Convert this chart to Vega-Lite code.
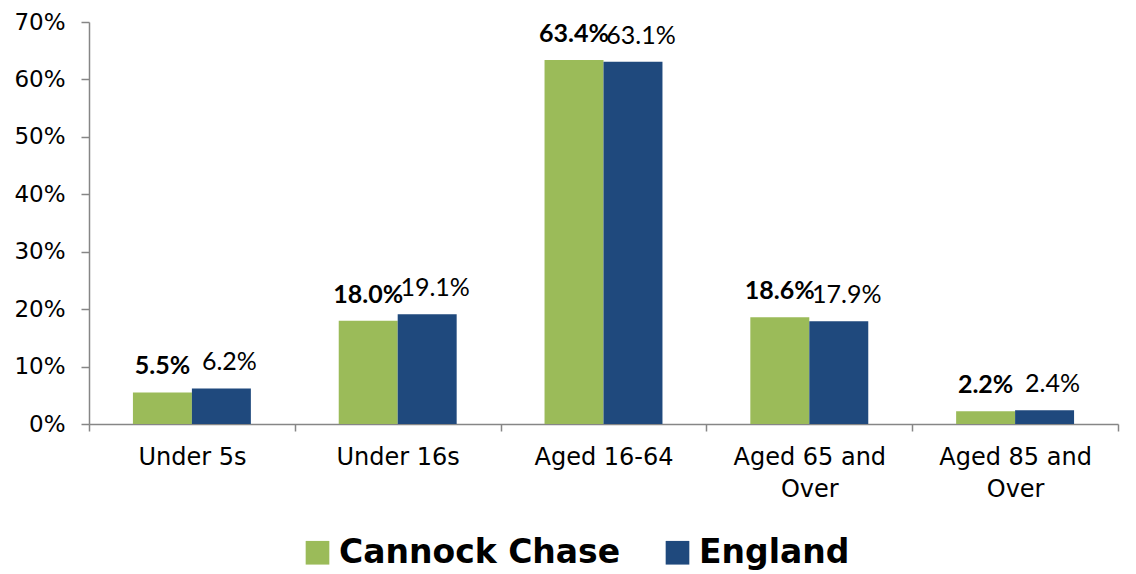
{
  "$schema": "https://vega.github.io/schema/vega-lite/v6.json",
  "autosize": "none",
  "width": 1029,
  "height": 402,
  "padding": {"left": 89, "top": 22, "right": 18, "bottom": 150},
  "background": "white",
  "config": {
    "view": {"stroke": null},
    "font": "DejaVu Sans"
  },
  "data": {
    "values": [
      {"category": "Under 5s", "series": "Cannock Chase", "value": 0.055},
      {"category": "Under 5s", "series": "England", "value": 0.062},
      {"category": "Under 16s", "series": "Cannock Chase", "value": 0.180},
      {"category": "Under 16s", "series": "England", "value": 0.191},
      {"category": "Aged 16-64", "series": "Cannock Chase", "value": 0.634},
      {"category": "Aged 16-64", "series": "England", "value": 0.631},
      {"category": "Aged 65 and Over", "series": "Cannock Chase", "value": 0.186},
      {"category": "Aged 65 and Over", "series": "England", "value": 0.179},
      {"category": "Aged 85 and Over", "series": "Cannock Chase", "value": 0.022},
      {"category": "Aged 85 and Over", "series": "England", "value": 0.024}
    ]
  },
  "encoding": {
    "x": {
      "field": "category",
      "type": "nominal",
      "sort": null,
      "scale": {"paddingInner": 0, "paddingOuter": 0},
      "axis": {
        "title": null,
        "labelAngle": 0,
        "labelFont": "DejaVu Sans",
        "labelFontSize": 24,
        "labelColor": "#000000",
        "labelPadding": 14,
        "labelLineHeight": 32,
        "labelExpr": "datum.value == 'Aged 65 and Over' ? ['Aged 65 and', 'Over'] : datum.value == 'Aged 85 and Over' ? ['Aged 85 and', 'Over'] : datum.value",
        "tickBand": "extent",
        "tickSize": 7,
        "tickColor": "#868686",
        "tickWidth": 1.5,
        "domainColor": "#868686",
        "domainWidth": 1.5,
        "grid": false
      }
    },
    "xOffset": {"field": "series", "type": "nominal", "scale": {"paddingInner": 0, "paddingOuter": 0.745}},
    "y": {
      "field": "value",
      "type": "quantitative",
      "scale": {"domain": [0, 0.7], "nice": false},
      "axis": {
        "title": null,
        "format": ".0%",
        "values": [0, 0.1, 0.2, 0.3, 0.4, 0.5, 0.6, 0.7],
        "labelFont": "DejaVu Sans",
        "labelFontSize": 23,
        "labelColor": "#000000",
        "labelPadding": 16,
        "tickSize": 8,
        "tickColor": "#868686",
        "tickWidth": 1.5,
        "domainColor": "#868686",
        "domainWidth": 1.5,
        "grid": false
      }
    }
  },
  "layer": [
    {
      "mark": {"type": "bar"},
      "encoding": {
        "color": {
          "field": "series",
          "type": "nominal",
          "scale": {"domain": ["Cannock Chase", "England"], "range": ["#9BBB59", "#1F497D"]},
          "legend": {
            "title": null,
            "orient": "none",
            "legendX": 212,
            "legendY": 514,
            "direction": "horizontal",
            "symbolType": "square",
            "symbolSize": 560,
            "symbolStrokeWidth": 0,
            "labelFont": "DejaVu Sans",
            "labelFontSize": 33,
            "labelFontWeight": "bold",
            "labelColor": "#000000",
            "labelLimit": 400,
            "labelOffset": 5,
            "columnPadding": 40
          }
        }
      }
    },
    {
      "transform": [{"filter": "datum.series == 'Cannock Chase'"}],
      "mark": {"type": "text", "baseline": "middle", "dy": -26, "fontSize": 25, "fontWeight": "bold", "font": "Lato", "color": "#000000"},
      "encoding": {
        "text": {"field": "value", "type": "quantitative", "format": ".1%"}
      }
    },
    {
      "transform": [{"filter": "datum.series == 'England'"}],
      "mark": {"type": "text", "baseline": "middle", "dy": -26, "dx": 8, "fontSize": 25, "font": "Lato", "color": "#000000"},
      "encoding": {
        "text": {"field": "value", "type": "quantitative", "format": ".1%"}
      }
    }
  ]
}
